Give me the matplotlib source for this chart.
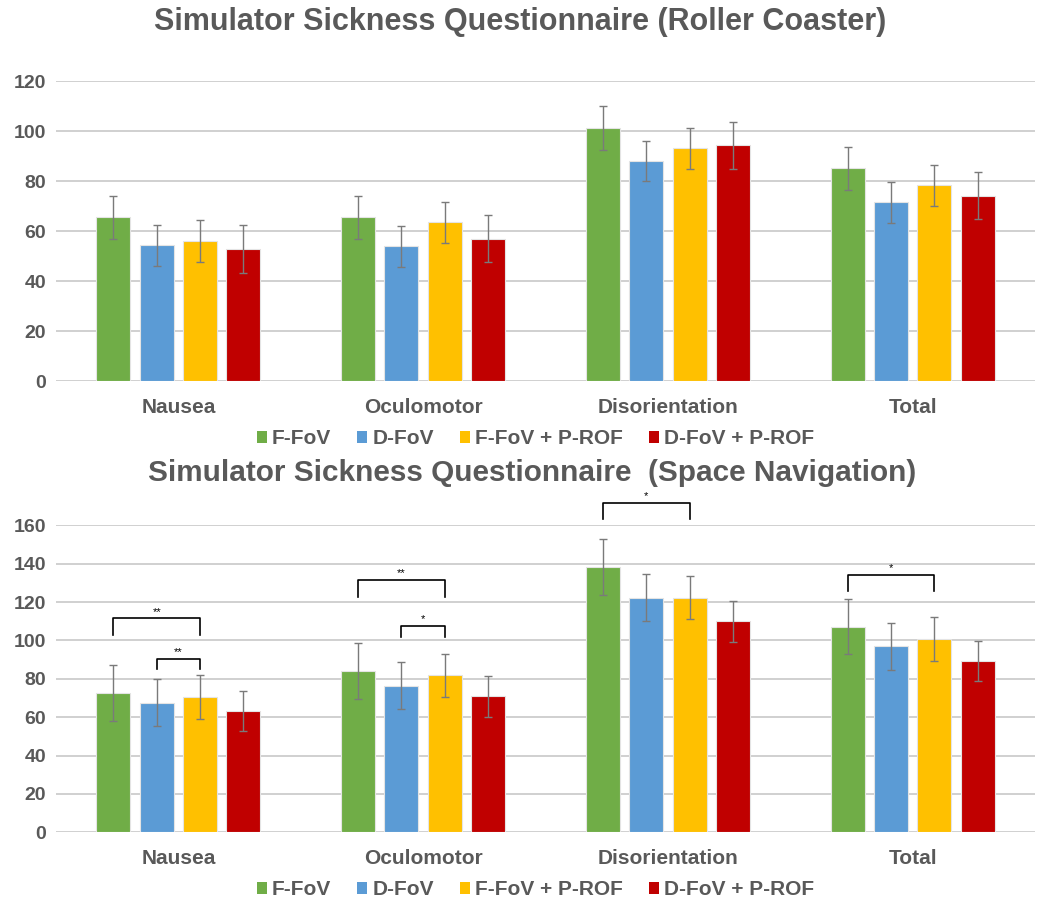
import matplotlib
matplotlib.use("Agg")
import matplotlib.pyplot as plt
import numpy as np
from matplotlib.patches import Patch

plt.rcParams['font.family'] = ['Liberation Sans', 'DejaVu Sans']

categories = ["Nausea", "Oculomotor", "Disorientation", "Total"]
conditions = ["F-FoV", "D-FoV", "F-FoV + P-ROF", "D-FoV + P-ROF"]
colors = ["#70AD47", "#5B9BD5", "#FFC000", "#C00000"]

# Roller coaster scores (mean, error)
rc_f_fov = [65.6, 65.6, 101.5, 85.3]
rc_d_fov = [54.4, 54.0, 88.1, 71.6]
rc_f_fov_prof = [56.0, 63.7, 93.2, 78.4]
rc_d_fov_prof = [52.8, 57.1, 94.4, 74.3]
rc_f_fov_err = [8.7, 8.7, 8.8, 8.6]
rc_d_fov_err = [8.2, 8.1, 8.1, 8.2]
rc_f_fov_prof_err = [8.4, 8.2, 8.2, 8.3]
rc_d_fov_prof_err = [9.6, 9.5, 9.4, 9.5]

# Space navigation scores (mean, error)
sn_f_fov = [72.8, 84.3, 138.5, 107.2]
sn_d_fov = [67.6, 76.3, 122.3, 96.9]
sn_f_fov_prof = [70.7, 81.8, 122.3, 100.9]
sn_d_fov_prof = [63.1, 70.9, 110.0, 89.1]
sn_f_fov_err = [14.6, 14.6, 14.6, 14.5]
sn_d_fov_err = [12.2, 12.2, 12.2, 12.2]
sn_f_fov_prof_err = [11.5, 11.3, 11.2, 11.4]
sn_d_fov_prof_err = [10.5, 10.6, 10.6, 10.5]

# Significance brackets: (category index, condition a, condition b, bar height, leg bottom, label)
sn_brackets = [
    (0, 0, 2, 111.5, 102.8, "**"),
    (0, 1, 2, 90.5, 85.0, "**"),
    (1, 0, 2, 131.7, 122.8, "**"),
    (1, 1, 2, 107.7, 102.0, "*"),
    (2, 0, 2, 171.8, 163.3, "*"),
    (3, 0, 2, 134.3, 126.0, "*"),
]

rc_title = "Simulator Sickness Questionnaire (Roller Coaster)"
sn_title = "Simulator Sickness Questionnaire  (Space Navigation)"

TEXT = "#595959"
STEP = 0.177
WIDTH = 0.139

fig = plt.figure(figsize=(10.53, 9.02), dpi=100)


def draw_panel(ax, series, errors, ymax, ystep):
    x = np.arange(len(categories))
    for i, (vals, errs) in enumerate(zip(series, errors)):
        pos = x + (i - 1.5) * STEP
        ax.bar(pos, vals, WIDTH, color=colors[i], edgecolor="#e4e4e4",
               linewidth=0.8, zorder=3)
        ax.errorbar(pos, vals, yerr=errs, fmt="none", ecolor="#7a7a7a",
                    elinewidth=1.0, capsize=3, capthick=1.0, zorder=4)
    ax.set_xlim(-0.5, len(categories) - 0.5)
    ax.set_ylim(0, ymax)
    ax.set_yticks(np.arange(0, ymax + 1, ystep))
    ax.yaxis.grid(True, color="#c4c4c4", linewidth=1.1, zorder=0)
    ax.set_axisbelow(True)
    for s in ax.spines.values():
        s.set_visible(False)
    ax.tick_params(axis="both", length=0, colors=TEXT, labelsize=14)
    ax.tick_params(axis="y", pad=7)
    ax.tick_params(axis="x", pad=12, labelsize=15)
    ax.set_xticks(x)
    ax.set_xticklabels(categories, fontweight="bold", color=TEXT)
    for lab in ax.get_yticklabels():
        lab.set_fontweight("bold")


ax1 = fig.add_axes([0.0532, 0.5773, 0.9297, 0.3326])
draw_panel(ax1,
           [rc_f_fov, rc_d_fov, rc_f_fov_prof, rc_d_fov_prof],
           [rc_f_fov_err, rc_d_fov_err, rc_f_fov_prof_err, rc_d_fov_prof_err],
           120, 20)

ax2 = fig.add_axes([0.0532, 0.0773, 0.9297, 0.3403])
draw_panel(ax2,
           [sn_f_fov, sn_d_fov, sn_f_fov_prof, sn_d_fov_prof],
           [sn_f_fov_err, sn_d_fov_err, sn_f_fov_prof_err, sn_d_fov_prof_err],
           160, 20)

for cat, a, b, top, leg, label in sn_brackets:
    xa = cat + (a - 1.5) * STEP
    xb = cat + (b - 1.5) * STEP
    ax2.plot([xa, xa, xb, xb], [leg, top, top, leg], color="black",
             linewidth=1.2, clip_on=False, zorder=5)
    ax2.text((xa + xb) / 2, top + 0.8, label, ha="center", va="bottom",
             fontsize=8, color="black", clip_on=False)

fig.text(0.494, 0.9756, rc_title, ha="center", va="center",
         fontsize=22, fontweight="bold", color=TEXT)
fig.text(0.505, 0.4756, sn_title, ha="center", va="center",
         fontsize=21.4, fontweight="bold", color=TEXT)

handles = [Patch(facecolor=c, edgecolor="none") for c in colors]
for ypos in (0.5135, 0.0135):
    fig.legend(handles, conditions, loc="center", bbox_to_anchor=(0.5086, ypos),
               ncol=4, frameon=False, handlelength=0.48, handleheight=0.48,
               handletextpad=0.24, columnspacing=1.25,
               prop={"weight": "bold", "size": 15}, labelcolor=TEXT)

fig.savefig("out.png", dpi=100)
